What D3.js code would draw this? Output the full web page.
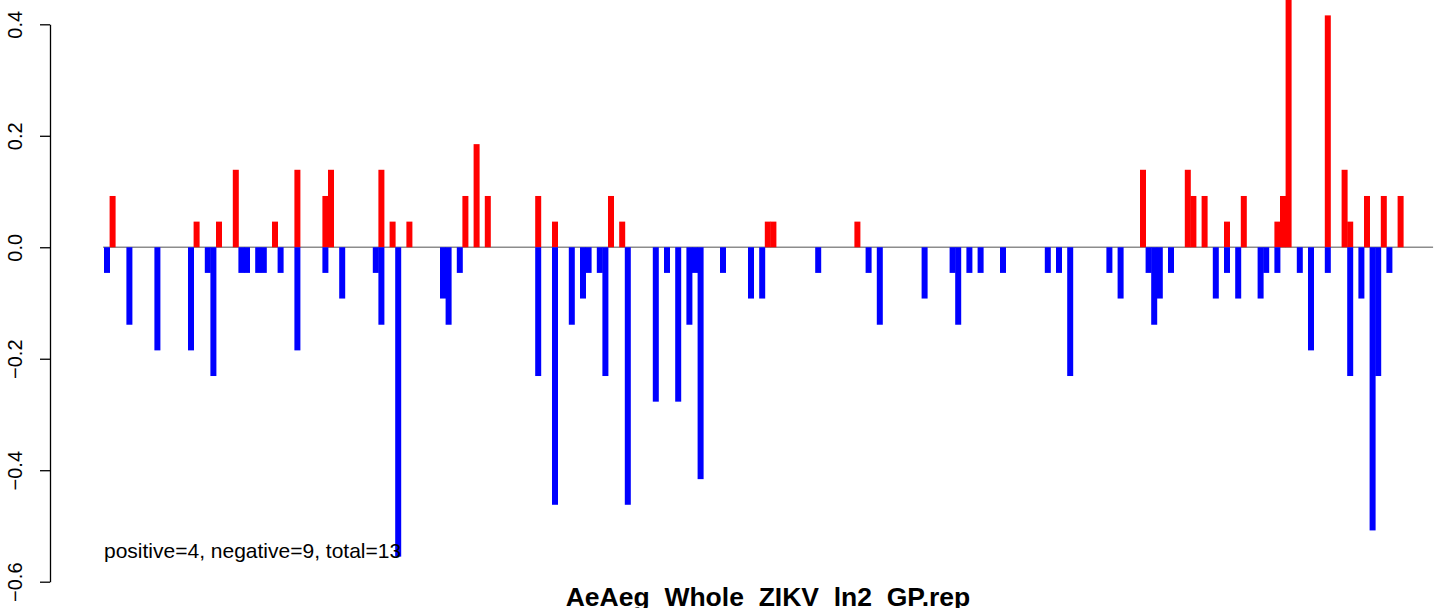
<!DOCTYPE html>
<html>
<head>
<meta charset="utf-8">
<script src="https://cdn.jsdelivr.net/npm/d3@7"></script>
<style>
  body { margin: 0; background: #fff; }
  svg { display: block; }
</style>
</head>
<body>
<svg width="1444" height="608"></svg>
<script>
var svg = d3.select('svg');

// slot index (position along the x axis) and value of each bar
var posIndex = [1, 16, 20, 23, 30, 34, 39, 40, 49, 51, 54, 64, 66, 68, 77, 80, 90, 92,
    118, 119, 134, 185, 193, 194, 196, 200, 203, 209, 210, 211, 218, 221, 222, 225, 228, 231];
var posValue = [0.092, 0.046, 0.046, 0.139, 0.046, 0.139, 0.092, 0.139, 0.139, 0.046, 0.046, 0.092, 0.185, 0.092, 0.092, 0.046, 0.092, 0.046,
    0.046, 0.046, 0.046, 0.139, 0.139, 0.092, 0.092, 0.046, 0.092, 0.046, 0.092, 0.462, 0.416, 0.139, 0.046, 0.092, 0.092, 0.092];

var negIndex = [0, 4, 9, 15, 18, 19, 24, 25, 27, 28, 31, 34, 39, 42, 48, 49, 52, 60, 61, 63,
    77, 80, 83, 85, 86, 88, 89, 93, 98, 100, 102, 104, 105, 106, 110, 115, 117,
    127, 136, 138, 146, 151, 152, 154, 156, 160, 168, 170, 172, 179, 181,
    186, 187, 188, 190, 198, 200, 202, 206, 207, 209, 213, 215, 218, 222, 224, 226, 227, 229];
var negValue = [-0.046, -0.139, -0.185, -0.185, -0.046, -0.231, -0.046, -0.046, -0.046, -0.046, -0.046, -0.185, -0.046, -0.092, -0.046, -0.139, -0.555, -0.092, -0.139, -0.046,
    -0.231, -0.462, -0.139, -0.092, -0.046, -0.046, -0.231, -0.462, -0.277, -0.046, -0.277, -0.139, -0.046, -0.416, -0.046, -0.092, -0.092,
    -0.046, -0.046, -0.139, -0.092, -0.046, -0.139, -0.046, -0.046, -0.046, -0.046, -0.046, -0.231, -0.046, -0.092,
    -0.046, -0.139, -0.092, -0.046, -0.092, -0.046, -0.092, -0.092, -0.046, -0.046, -0.046, -0.185, -0.046, -0.231, -0.092, -0.508, -0.231, -0.046];

var yTicks = [-0.6, -0.4, -0.2, 0.0, 0.2, 0.4];
var title = 'AeAeg_Whole_ZIKV_ln2_GP.rep';
var note = 'positive=4, negative=9, total=13';

var x = d3.scaleLinear().domain([0, 231]).range([107, 1400.6]);
var y = d3.scaleLinear().domain([-0.6, 0.4]).range([581.7, 24.3]);
var barW = 6;

var font = '"Liberation Sans", Arial, Helvetica, sans-serif';

// zero line
svg.append('line')
    .attr('x1', x(-0.7))
    .attr('x2', x(236.8))
    .attr('y1', y(0))
    .attr('y2', y(0))
    .attr('stroke', '#8c8c8c')
    .attr('stroke-width', 1.5);

var pos = posIndex.map(function(d, i){ return {i: d, v: posValue[i]}; });
var neg = negIndex.map(function(d, i){ return {i: d, v: negValue[i]}; });

svg.selectAll('rect.pos')
    .data(pos)
    .enter()
    .append('rect')
    .attr('class', 'pos')
    .attr('x', function(d){ return x(d.i) - barW / 2; })
    .attr('y', function(d){ return y(d.v); })
    .attr('width', barW)
    .attr('height', function(d){ return y(0) - y(d.v); })
    .attr('fill', '#ff0000');

svg.selectAll('rect.neg')
    .data(neg)
    .enter()
    .append('rect')
    .attr('class', 'neg')
    .attr('x', function(d){ return x(d.i) - barW / 2; })
    .attr('y', y(0))
    .attr('width', barW)
    .attr('height', function(d){ return y(d.v) - y(0); })
    .attr('fill', '#0000ff');

// y axis
var yAxis = svg.append('g')
    .attr('transform', 'translate(50,0)')
    .call(d3.axisLeft(y).tickValues(yTicks).tickSize(10).tickSizeOuter(0).tickFormat(d3.format('.1f')));

yAxis.select('.domain').attr('stroke', '#000').attr('stroke-width', 1.3);
yAxis.selectAll('.tick line').attr('stroke', '#000').attr('stroke-width', 1.3);
yAxis.selectAll('.tick text')
    .attr('transform', 'rotate(-90)')
    .attr('x', 0)
    .attr('y', -28)
    .attr('dy', null)
    .attr('fill', '#000')
    .style('text-anchor', 'middle')
    .style('font-family', font)
    .style('font-size', '20px');

svg.append('text')
    .attr('x', 104)
    .attr('y', 558)
    .attr('fill', '#000')
    .style('font-family', font)
    .style('font-size', '21px')
    .text(note);

// the title sits at the bottom edge, its underscores fall below the picture
svg.append('text')
    .attr('x', 768)
    .attr('y', 605.5)
    .attr('text-anchor', 'middle')
    .attr('fill', '#000')
    .style('font-family', font)
    .style('font-size', '26.5px')
    .style('font-weight', 'bold')
    .text(title);
</script>
</body>
</html>
